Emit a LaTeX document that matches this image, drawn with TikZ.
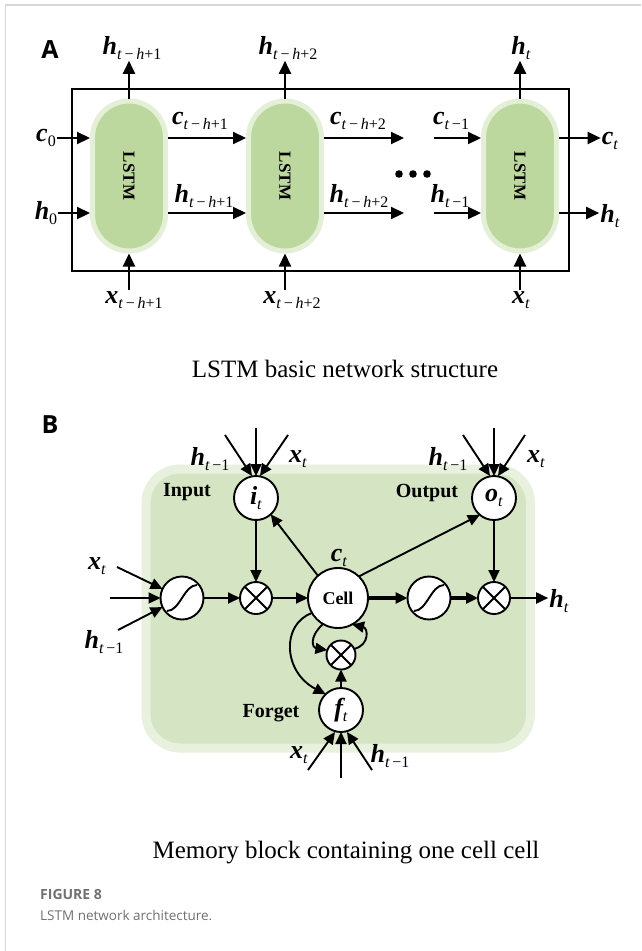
\documentclass[tikz,border=0pt]{standalone}
\usepackage{fontspec}
\setmainfont{Liberation Serif}
\newfontfamily\capfont{Open Sans}
\usepackage{graphicx}
\usepackage{xcolor}
\definecolor{lstmFill}{HTML}{BDD89E}
\definecolor{lstmRing}{HTML}{E3EFD7}
\definecolor{blockFill}{HTML}{D5E4C3}
\definecolor{blockRing}{HTML}{E7F1DD}
\definecolor{edgeGray}{HTML}{D6D6D6}
\definecolor{capGray}{HTML}{707070}
\usetikzlibrary{arrows.meta,positioning}
\newcommand{\vlab}[2]{{\fontsize{26}{26}\selectfont\bfseries\itshape #1}\raisebox{-5pt}{\fontsize{16}{16}\selectfont #2}}
\tikzset{
    lstm/.style={
        rectangle,
        rounded corners=36.5pt,
        minimum width=73pt,
        minimum height=150pt,
        fill=lstmFill,
        draw=lstmRing,
        line width=5pt,
        inner sep=0pt,
        font=\fontsize{17}{17}\selectfont\bfseries
    },
    lab/.style={inner sep=1pt},
    word/.style={font=\fontsize{20}{20}\selectfont\bfseries},
    tag/.style={font=\capfont\fontsize{25}{25}\selectfont\bfseries},
    arrA/.style={-{Triangle[length=13pt,width=12pt]}, line width=2.2pt},
    arrB/.style={-{Triangle[length=12pt,width=11pt]}, line width=1.9pt},
    thickB/.style={arrB, line width=3.2pt},
    unit/.style={
        circle,
        draw,
        fill=white,
        line width=1.9pt,
        inner sep=0pt,
        outer sep=0pt
    },
    gate/.style={unit, minimum size=44pt},
    mult/.style={unit, minimum size=32pt,
        path picture={\draw[line width=1.9pt]
            (path picture bounding box.north west) -- (path picture bounding box.south east)
            (path picture bounding box.north east) -- (path picture bounding box.south west);}},
    sigm/.style={unit, minimum size=43pt,
        path picture={\draw[line width=1.9pt]
            (path picture bounding box.center) ++(-15,13) .. controls +(13,0) and +(-13,0) .. ++(30,-26);}}
}

\begin{document}
\begin{tikzpicture}[x=1pt,y=-1pt]
    \useasboundingbox (0,0) rectangle (641,951);
    \draw[edgeGray, line width=1.5pt] (5.5,951) -- (5.5,5) -- (641,5);

    % Panel A: unrolled chain
    \node[tag] (tagA) at (50,50) {A};
    \draw[line width=2.2pt] (72,89) rectangle (569,271);
    \node[lstm] (lstmA) at (129,176) {\rotatebox{-90}{LSTM}};
    \node[lstm] (lstmB) at (285,176) {\rotatebox{-90}{LSTM}};
    \node[lstm] (lstmC) at (520,176) {\rotatebox{-90}{LSTM}};

    % outputs on top
    \node[lab] (hA) at (132,48) {\vlab{h}{\textit{t}\,−\,\textit{h}+1}};
    \node[lab] (hB) at (288,48) {\vlab{h}{\textit{t}\,−\,\textit{h}+2}};
    \node[lab] (hC) at (521,48) {\vlab{h}{\textit{t}}};
    \draw[arrA] (lstmA.north) -- (lstmA.north |- hA.south);
    \draw[arrA] (lstmB.north) -- (lstmB.north |- hB.south);
    \draw[arrA] (lstmC.north) -- (lstmC.north |- hC.south);

    % inputs below
    \node[lab] (xA) at (134,300) {\vlab{x}{\textit{t}\,−\,\textit{h}+1}};
    \node[lab] (xB) at (292,300) {\vlab{x}{\textit{t}\,−\,\textit{h}+2}};
    \node[lab] (xC) at (521,300) {\vlab{x}{\textit{t}}};
    \draw[arrA] (lstmA.south |- xA.north) -- (lstmA.south);
    \draw[arrA] (lstmB.south |- xB.north) -- (lstmB.south);
    \draw[arrA] (lstmC.south |- xC.north) -- (lstmC.south);

    % cell state row
    \node[lab] (c0) at (46,138) {\vlab{c}{0}};
    \node[lab] (cA) at (200,121) {\vlab{c}{\textit{t}\,−\,\textit{h}+1}};
    \node[lab] (cB) at (358,121) {\vlab{c}{\textit{t}\,−\,\textit{h}+2}};
    \node[lab] (cC) at (451,121) {\vlab{c}{\textit{t}\,−1}};
    \node[lab] (ct) at (610,141) {\vlab{c}{\textit{t}}};
    \coordinate (cGapL) at (404,138);
    \coordinate (cGapR) at (434,138);
    \draw[arrA] (c0) -- (c0 -| lstmA.west);
    \draw[arrA] (lstmA.east |- c0) -- (lstmB.west |- c0);
    \draw[arrA] (lstmB.east |- c0) -- (cGapL);
    \draw[arrA] (cGapR) -- (lstmC.west |- c0);
    \draw[arrA] (lstmC.east |- c0) -- (ct.west |- c0);

    % hidden state row
    \node[lab] (h0) at (46,213) {\vlab{h}{0}};
    \node[lab] (hAB) at (204,196) {\vlab{h}{\textit{t}\,−\,\textit{h}+1}};
    \node[lab] (hBC) at (359,196) {\vlab{h}{\textit{t}\,−\,\textit{h}+2}};
    \node[lab] (hCC) at (450,196) {\vlab{h}{\textit{t}\,−1}};
    \node[lab] (ht) at (610,216) {\vlab{h}{\textit{t}}};
    \coordinate (hGapL) at (404,213);
    \coordinate (hGapR) at (434,213);
    \draw[arrA] (h0) -- (h0 -| lstmA.west);
    \draw[arrA] (lstmA.east |- h0) -- (lstmB.west |- h0);
    \draw[arrA] (lstmB.east |- h0) -- (hGapL);
    \draw[arrA] (hGapR) -- (lstmC.west |- h0);
    \draw[arrA] (lstmC.east |- h0) -- (ht.west |- h0);

    \foreach \dx in {399,413,427}
        \fill (\dx,174) circle (3.8);

    \node[font=\fontsize{25}{25}\selectfont, anchor=base] (capA) at (345,377) {LSTM basic network structure};

    % Panel B: memory block
    \node[tag] (tagB) at (50,425) {B};
    \draw[blockRing, fill=blockFill, line width=9pt, rounded corners=34pt] (146,469) rectangle (530.5,748);

    \node[gate] (it) at (256,498) {\vlab{i}{\textit{t}}};
    \node[gate] (ot) at (494,498) {\vlab{o}{\textit{t}}};
    \node[unit, minimum size=60pt, font=\fontsize{18}{18}\selectfont\bfseries] (cell) at (338,598) {Cell};
    \node[sigm] (sigIn) at (182,598) {};
    \node[mult] (mulIn) at (256,598) {};
    \node[sigm] (sigOut) at (429,598) {};
    \node[mult] (mulOut) at (494,598) {};
    \node[mult, minimum size=29pt] (mulF) at (341,655) {};
    \node[gate] (ft) at (341,710) {\vlab{f}{\textit{t}}};

    \node[word] (wIn) at (187,492) {Input};
    \node[word] (wOut) at (427,493) {Output};
    \node[word] (wFor) at (271,713) {Forget};
    \node[lab] (ctB) at (339,558) {\vlab{c}{\textit{t}}};

    % gate inputs
    \coordinate (itL) at (225,435);
    \coordinate (itM) at (256,428);
    \coordinate (itR) at (288,435);
    \node[lab] (hIt) at (210,459) {\vlab{h}{\textit{t}\,−1}};
    \node[lab] (xIt) at (298,459) {\vlab{x}{\textit{t}}};
    \draw[arrB] (itL) -- ([xshift=-4pt]it.north);
    \draw[arrB] (itM) -- (it.north);
    \draw[arrB] (itR) -- ([xshift=4pt]it.north);

    \coordinate (otL) at (463,435);
    \coordinate (otM) at (494,428);
    \coordinate (otR) at (525,435);
    \node[lab] (hOt) at (448,459) {\vlab{h}{\textit{t}\,−1}};
    \node[lab] (xOt) at (536,459) {\vlab{x}{\textit{t}}};
    \draw[arrB] (otL) -- ([xshift=-4pt]ot.north);
    \draw[arrB] (otM) -- (ot.north);
    \draw[arrB] (otR) -- ([xshift=4pt]ot.north);

    \coordinate (fL) at (308,770);
    \coordinate (fM) at (341,778);
    \coordinate (fR) at (372,770);
    \node[lab] (xFt) at (299,755) {\vlab{x}{\textit{t}}};
    \node[lab] (hFt) at (390,756) {\vlab{h}{\textit{t}\,−1}};
    \draw[arrB] (fL) -- ([xshift=-6pt]ft.south);
    \draw[arrB] (fM) -- (ft.south);
    \draw[arrB] (fR) -- ([xshift=6pt]ft.south);

    \coordinate (sX) at (117,567);
    \coordinate (sM) at (110,598);
    \coordinate (sH) at (118,630);
    \node[lab] (xIn) at (97,566) {\vlab{x}{\textit{t}}};
    \node[lab] (hIn) at (104,642) {\vlab{h}{\textit{t}\,−1}};
    \draw[arrB] (sX) -- (sigIn.155);
    \draw[arrB] (sM) -- (sigIn.west);
    \draw[arrB] (sH) -- (sigIn.205);

    % main path
    \draw[arrB] (sigIn) -- (mulIn);
    \draw[arrB] (it) -- (mulIn);
    \draw[arrB] (mulIn) -- (cell);
    \draw[thickB] (cell) -- (sigOut);
    \draw[thickB] (sigOut) -- (mulOut);
    \draw[arrB] (ot) -- (mulOut);
    \node[lab] (htB) at (559,601) {\vlab{h}{\textit{t}}};
    \draw[arrB] (mulOut) -- (htB.west |- mulOut);
    \draw[arrB] (cell.132) -- (it.-48);
    \draw[arrB] (cell.46) -- (ot.230);

    % forget loop
    \draw[arrB] (ft) -- (mulF);
    \draw[arrB] (cell.210) .. controls (281,624) and (283,672) .. (ft.134);
    \draw[arrB] (cell.240) .. controls (308,638) and (313,648) .. (mulF.160);
    \draw[arrB] (mulF.25) .. controls (370,645) and (368,628) .. (cell.298);

    \node[font=\fontsize{25}{25}\selectfont, anchor=base] (capB) at (346,858) {Memory block containing one cell cell};
    \node[font=\capfont\fontsize{14}{14}\selectfont\bfseries, text=capGray, anchor=base west, inner sep=0pt] (figNo) at (40,899) {FIGURE 8};
    \node[font=\capfont\fontsize{13.5}{13.5}\selectfont, text=capGray, anchor=base west, inner sep=0pt] (figCap) at (40,920) {LSTM network architecture.};
\end{tikzpicture}
\end{document}
